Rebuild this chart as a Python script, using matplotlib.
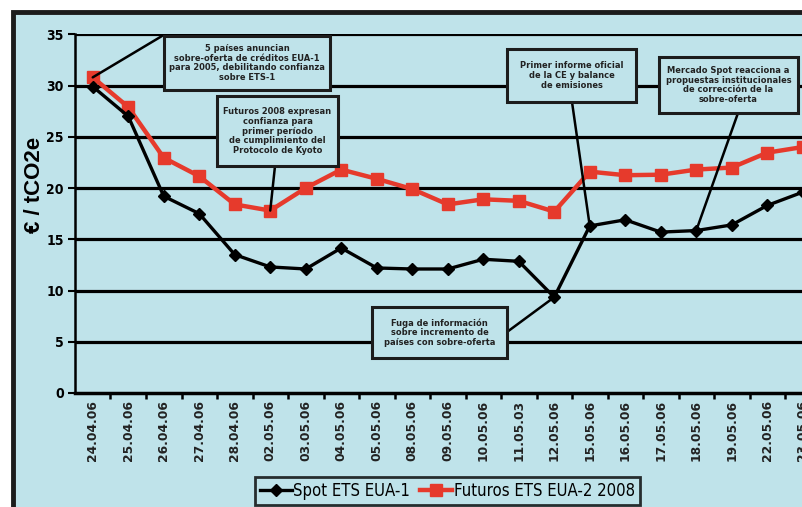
import matplotlib.pyplot as plt
from matplotlib.patches import Rectangle, ConnectionPatch
from matplotlib.font_manager import FontProperties

# precios diarios, EUR por tonelada de CO2
fechas = ['24.04.06', '25.04.06', '26.04.06', '27.04.06', '28.04.06', '02.05.06',
          '03.05.06', '04.05.06', '05.05.06', '08.05.06', '09.05.06', '10.05.06',
          '11.05.03', '12.05.06', '15.05.06', '16.05.06', '17.05.06', '18.05.06',
          '19.05.06', '22.05.06', '23.05.06']
spot = [29.9, 27.0, 19.2, 17.5, 13.5, 12.3, 12.1, 14.15, 12.2, 12.1, 12.1, 13.05,
        12.85, 9.35, 16.3, 16.9, 15.7, 15.85, 16.4, 18.3, 19.6]
futuros = [30.8, 27.9, 22.95, 21.15, 18.4, 17.8, 20.0, 21.8, 20.9, 19.9, 18.4, 18.9,
           18.75, 17.7, 21.6, 21.25, 21.3, 21.8, 22.0, 23.45, 24.0]

notas = ['5 países anuncian\nsobre-oferta de créditos EUA-1\npara 2005, debilitando confianza\nsobre ETS-1',
         'Futuros 2008 expresan\nconfianza para\nprimer período\nde cumplimiento del\nProtocolo de Kyoto',
         'Primer informe oficial\nde la CE y balance\nde emisiones',
         'Mercado Spot reacciona a\npropuestas institucionales\nde corrección de la\nsobre-oferta',
         'Fuga de información\nsobre incremento de\npaíses con sobre-oferta']

SANS = ['Liberation Sans', 'DejaVu Sans']
FONDO = '#bfe3ea'
ROJO = '#e63a2c'
W, H = 803, 507


def estrecha(size, weight='normal'):
    return FontProperties(family='DejaVu Sans', stretch='condensed', weight=weight, size=size)


fig = plt.figure(figsize=(W / 100, H / 100), dpi=100, facecolor='white')
# marco exterior del grafico
fig.patches.append(Rectangle((13 / W, -0.1), 1.2, 1.1 - 11.5 / H, transform=fig.transFigure,
                             facecolor=FONDO, edgecolor='#1c1c1c', linewidth=3.5, zorder=-5))

ax = fig.add_axes([75 / W, 114 / H, 745.5 / W, 358.7 / H])
ax.set_facecolor('none')
x = range(len(fechas))

for v in range(5, 40, 5):
    ax.axhline(v, color='black', lw=2.3, zorder=1)

ax.plot(x, futuros, color=ROJO, lw=3.2, marker='s', ms=8, label='Futuros ETS EUA-2 2008', zorder=3)
ax.plot(x, spot, color='black', lw=2.4, marker='D', ms=6, label='Spot ETS EUA-1', zorder=4)

ax.set_xlim(-0.5, 20.5)
ax.set_ylim(0, 35)
ax.set_yticks(range(0, 40, 5))
ax.set_yticklabels([str(v) for v in range(0, 40, 5)], fontproperties=estrecha(10, 'bold'))
ax.tick_params(axis='y', length=5, width=1.5, pad=3)
ax.set_xticks(list(x))
ax.set_xticklabels(fechas, rotation=90, fontfamily='DejaVu Sans', fontweight='bold', fontsize=8.8,
                   color='#222222')
ax.set_xticks([i + 0.5 for i in x], minor=True)
ax.tick_params(axis='x', which='major', length=0, pad=5)
ax.tick_params(axis='x', which='minor', length=4, width=1.8)
for s in ['top', 'right']:
    ax.spines[s].set_visible(False)
ax.spines['left'].set_linewidth(1.8)
ax.spines['bottom'].set_linewidth(2.5)

fig.text(34 / W, 1 - 185 / H, '€ / tCO2e', rotation=90, ha='center', va='center',
         fontfamily=SANS, fontweight='bold', fontsize=16)


def nota(texto, caja, ancla, i, serie):
    x0, y0, x1, y1 = caja
    fig.patches.append(Rectangle((x0 / W, 1 - y1 / H), (x1 - x0) / W, (y1 - y0) / H,
                                 transform=fig.transFigure, facecolor=FONDO,
                                 edgecolor='#1c1c1c', linewidth=2.2, zorder=5))
    fig.text((x0 + x1) / 2 / W, 1 - (y0 + y1) / 2 / H, texto, ha='center', va='center',
             fontproperties=estrecha(6.7, 'bold'), linespacing=1.1,
             color='#222222', zorder=6)
    fig.add_artist(ConnectionPatch(xyA=(ancla[0], H - ancla[1]), coordsA='figure pixels',
                                   xyB=(i, serie[i]), coordsB=ax.transData,
                                   color='black', lw=1.8, zorder=5))


nota(notas[0], (164, 36, 330, 90), (162, 36), 0, futuros)
nota(notas[1], (217, 96, 338, 166), (275, 166), 5, futuros)
nota(notas[2], (507, 49, 636, 102), (572, 102), 14, spot)
nota(notas[3], (659, 57, 798, 113), (738, 113), 17, spot)
nota(notas[4], (372, 307, 507, 358), (507, 332), 13, spot)

h, l = ax.get_legend_handles_labels()
leg = fig.legend(h[::-1], l[::-1], loc='upper left', bbox_to_anchor=(255 / W, 1 - 477 / H),
                 ncol=2, frameon=True, fancybox=False, borderaxespad=0, handlelength=1.9,
                 handletextpad=0.1, columnspacing=0.6, borderpad=0.3,
                 prop=estrecha(12))
leg.get_frame().set_edgecolor('black')
leg.get_frame().set_linewidth(2)
leg.get_frame().set_facecolor(FONDO)

fig.savefig('out.png', dpi=100, facecolor='white')
